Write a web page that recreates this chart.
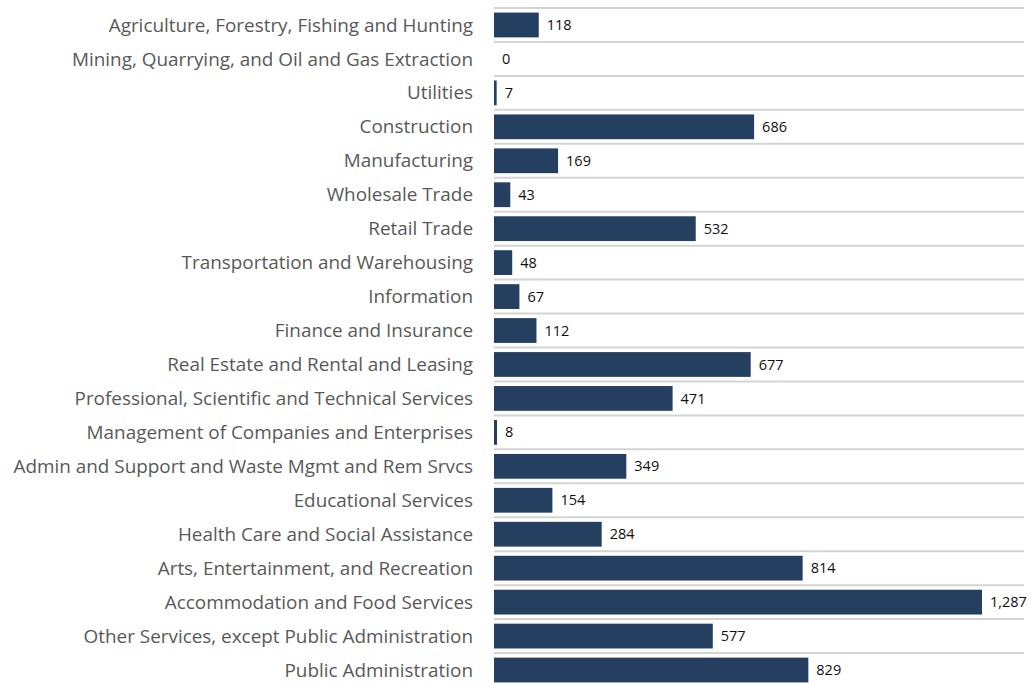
<!DOCTYPE html>
<html>
<head>
<meta charset="utf-8">
<script src="https://cdn.jsdelivr.net/npm/d3@7"></script>
<style>
  body { margin: 0; background: #fff; }
  svg { display: block; }
</style>
</head>
<body>
<div id="chart"></div>
<script>
var industries = [
  "Agriculture, Forestry, Fishing and Hunting",
  "Mining, Quarrying, and Oil and Gas Extraction",
  "Utilities",
  "Construction",
  "Manufacturing",
  "Wholesale Trade",
  "Retail Trade",
  "Transportation and Warehousing",
  "Information",
  "Finance and Insurance",
  "Real Estate and Rental and Leasing",
  "Professional, Scientific and Technical Services",
  "Management of Companies and Enterprises",
  "Admin and Support and Waste Mgmt and Rem Srvcs",
  "Educational Services",
  "Health Care and Social Assistance",
  "Arts, Entertainment, and Recreation",
  "Accommodation and Food Services",
  "Other Services, except Public Administration",
  "Public Administration"
]
var counts = [118, 0, 7, 686, 169, 43, 532, 48, 67, 112, 677, 471, 8, 349, 154, 284, 814, 1287, 577, 829]

var width = 1031,
  height = 685

var svg = d3
  .select("#chart")
  .append("svg")
  .attr("width", width)
  .attr("height", height)

var marginLeft = 494,
  marginTop = 8,
  step = 33.95

var y = d3
  .scaleBand()
  .domain(industries)
  .range([marginTop, marginTop + step * industries.length])
  .paddingInner(0.27)
  .paddingOuter(0.135)

var x = d3
  .scaleLinear()
  .domain([0, 1287])
  .range([marginLeft, 982])

var data = industries.map(function(d, i) {
  return { label: d, value: counts[i] }
})

// gridlines on band boundaries
var bounds = d3.range(industries.length + 1).map(function(i) {
  return marginTop + step * i
})
svg
  .append("g")
  .selectAll("line")
  .data(bounds)
  .enter()
  .append("line")
  .attr("x1", marginLeft)
  .attr("x2", 1024)
  .attr("y1", function(d) { return d })
  .attr("y2", function(d) { return d })
  .attr("stroke", "#d4d4d4")
  .attr("stroke-width", 2)

svg
  .append("g")
  .selectAll("rect")
  .data(data)
  .enter()
  .append("rect")
  .attr("x", x(0))
  .attr("y", function(d) { return y(d.label) })
  .attr("width", function(d) { return x(d.value) - x(0) })
  .attr("height", y.bandwidth())
  .attr("fill", "#243f60")

svg
  .append("g")
  .selectAll("text")
  .data(data)
  .enter()
  .append("text")
  .attr("x", function(d) { return x(d.value) + 8 })
  .attr("y", function(d) { return y(d.label) + y.bandwidth() / 2 })
  .attr("dy", "0.35em")
  .attr("font-family", "'Open Sans', Lato, sans-serif")
  .attr("font-size", 14.5)
  .attr("fill", "#111")
  .text(function(d) { return d3.format(",")(d.value) })

// category labels
svg
  .append("g")
  .selectAll("text")
  .data(industries)
  .enter()
  .append("text")
  .attr("x", 473)
  .attr("y", function(d) { return y(d) + y.bandwidth() / 2 })
  .attr("dy", "0.35em")
  .attr("text-anchor", "end")
  .attr("font-family", "'Open Sans', Lato, sans-serif")
  .attr("font-size", 18.9)
  .attr("fill", "#595959")
  .text(function(d) { return d })
</script>
</body>
</html>
